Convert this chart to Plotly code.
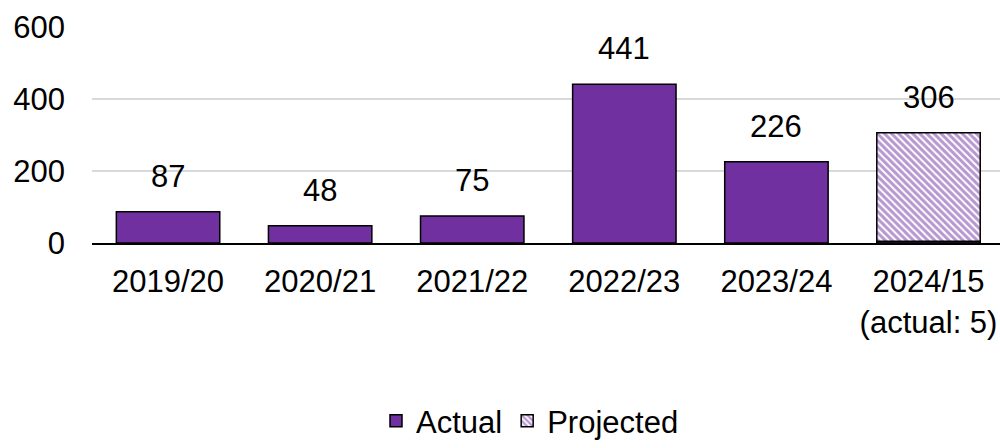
import plotly.graph_objects as go

# data
years = ["2019/20", "2020/21", "2021/22", "2022/23", "2023/24", "2024/15<br>(actual: 5)"]
actual = [87, 48, 75, 441, 226, 5]
projected = [None, None, None, None, None, 306]
bar_labels = ["87", "48", "75", "441", "226", "306"]
label_heights = [87, 48, 75, 441, 226, 306]

PURPLE = "#7030a0"
FONT = "Liberation Sans, Arial, sans-serif"

fig = go.Figure()

# projected drawn first so the small actual strip sits on top of it
fig.add_trace(go.Bar(
    x=years, y=projected, name="Projected", width=0.68,
    marker=dict(color="white", line=dict(color="black", width=1.5),
                pattern=dict(shape="\\", fgcolor=PURPLE, bgcolor="white",
                             size=5, solidity=0.6)),
    legendrank=2,
))
fig.add_trace(go.Bar(
    x=years, y=actual, name="Actual", width=0.68,
    marker=dict(color=PURPLE, line=dict(color="black", width=1.5)),
    legendrank=1,
))

for yr, h, lab in zip(years, label_heights, bar_labels):
    fig.add_annotation(x=yr, y=h, text=lab, showarrow=False,
                       yanchor="bottom", yshift=16,
                       font=dict(size=31, color="black", family=FONT))

fig.update_layout(
    width=1000, height=448,
    margin=dict(l=92, r=0, t=27, b=205),
    barmode="overlay",
    plot_bgcolor="white", paper_bgcolor="white",
    font=dict(family=FONT, size=31, color="black"),
    legend=dict(orientation="h", xref="container", x=0.53, xanchor="center",
                yref="container", y=-0.022, yanchor="bottom",
                font=dict(size=31), itemwidth=30,
                traceorder="normal", borderwidth=0),
    xaxis=dict(range=[-0.5, 5.47], showline=True, linecolor="black",
               linewidth=2, ticks="", ticklabelstandoff=10, showgrid=False,
               automargin=False),
    yaxis=dict(range=[0, 600], dtick=200, showgrid=True, gridcolor="#d9d9d9",
               gridwidth=1.5, zeroline=False, showline=False,
               ticklabelstandoff=26, automargin=False),
)

# drop the default page margin so the chart sits at the window's corner
fig.write_html("out.html", config={"displayModeBar": False},
               post_script="document.body.style.margin='0';")
